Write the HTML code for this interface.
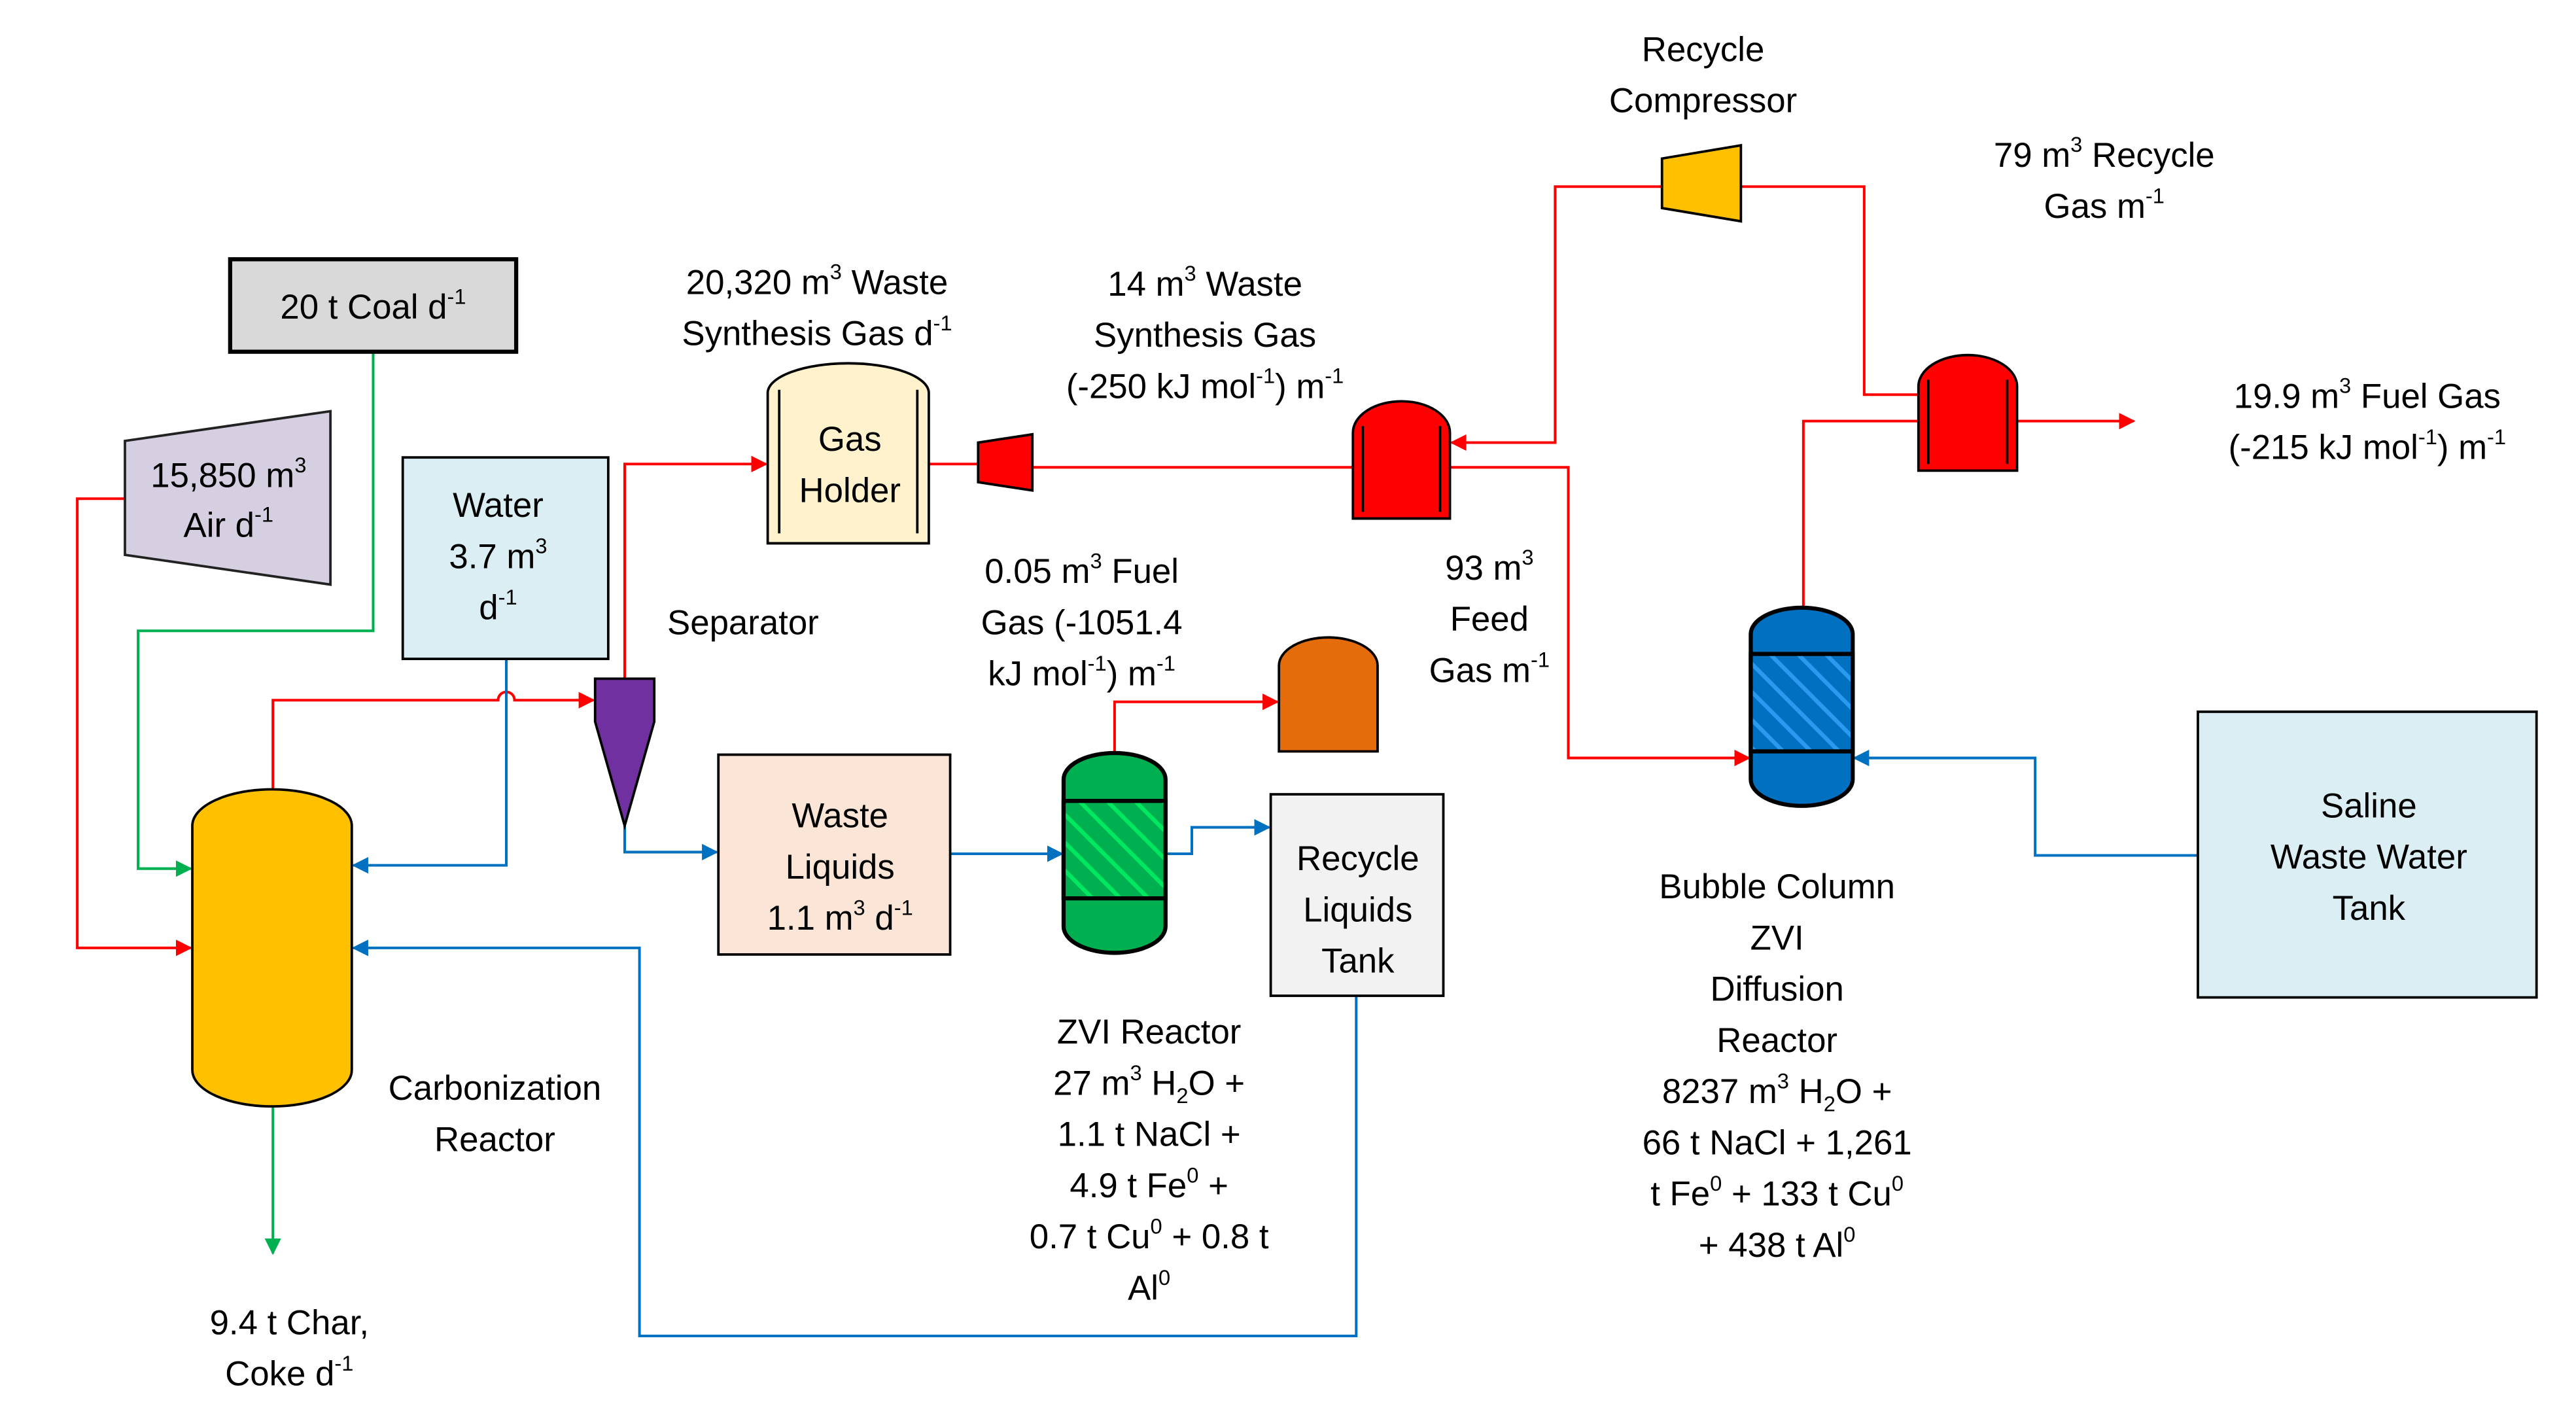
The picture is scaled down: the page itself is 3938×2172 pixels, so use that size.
<!DOCTYPE html>
<html><head><meta charset="utf-8"><style>html,body{margin:0;padding:0;background:#fff}svg{display:block}text{font-family:"Liberation Sans",sans-serif;font-size:21px;fill:#000}</style></head>
<body>
<svg width="3938" height="2172" viewBox="0 0 1567 860.5" preserveAspectRatio="none" xmlns="http://www.w3.org/2000/svg">
<defs>
<pattern id="hg" width="12" height="12" patternUnits="userSpaceOnUse" patternTransform="rotate(-45)"><rect width="12" height="12" fill="#00b050"/><rect width="2.5" height="12" fill="#00e860"/></pattern>
<pattern id="hb" width="12" height="12" patternUnits="userSpaceOnUse" patternTransform="rotate(-45)"><rect width="12" height="12" fill="#0070c0"/><rect width="2.5" height="12" fill="#2a9af0"/></pattern>
<marker id="ar" markerWidth="10" markerHeight="10" refX="9" refY="5" orient="auto" markerUnits="userSpaceOnUse"><path d="M0,0 L10,5 L0,10 Z" fill="#ff0000"/></marker>
<marker id="ab" markerWidth="10" markerHeight="10" refX="9" refY="5" orient="auto" markerUnits="userSpaceOnUse"><path d="M0,0 L10,5 L0,10 Z" fill="#0070c0"/></marker>
<marker id="ag" markerWidth="10" markerHeight="10" refX="9" refY="5" orient="auto" markerUnits="userSpaceOnUse"><path d="M0,0 L10,5 L0,10 Z" fill="#00b050"/></marker>
</defs>
<g fill="none" stroke-width="1.6">
<path d="M227,213 V382 H84 V526 H116" stroke="#00b050" marker-end="url(#ag)"/>
<path d="M166,670 V759" stroke="#00b050" marker-end="url(#ag)"/>
<path d="M76,302 H47 V574 H116" stroke="#ff0000" marker-end="url(#ar)"/>
<path d="M166,478 V424 H303 A5,5 0 0 1 313,424 H361" stroke="#ff0000" marker-end="url(#ar)"/>
<path d="M380,411 V281 H466" stroke="#ff0000" marker-end="url(#ar)"/>
<path d="M565,281 H596" stroke="#ff0000"/>
<path d="M628,283 H823" stroke="#ff0000"/>
<path d="M882,283 H954 V459 H1064" stroke="#ff0000" marker-end="url(#ar)"/>
<path d="M1011,113 H946 V268 H883" stroke="#ff0000" marker-end="url(#ar)"/>
<path d="M1059,113 H1134 V239 H1167" stroke="#ff0000"/>
<path d="M1097,368 V255 H1167" stroke="#ff0000"/>
<path d="M1227,255 H1298" stroke="#ff0000" marker-end="url(#ar)"/>
<path d="M678,457 V425 H777" stroke="#ff0000" marker-end="url(#ar)"/>
<path d="M308,399 V524 H215" stroke="#0070c0" marker-end="url(#ab)"/>
<path d="M380,500 V516 H436" stroke="#0070c0" marker-end="url(#ab)"/>
<path d="M578,517 H646" stroke="#0070c0" marker-end="url(#ab)"/>
<path d="M709,517 H725 V501 H772" stroke="#0070c0" marker-end="url(#ab)"/>
<path d="M825,603 V809 H389 V574 H215" stroke="#0070c0" marker-end="url(#ab)"/>
<path d="M1337,518 H1238 V459 H1128" stroke="#0070c0" marker-end="url(#ab)"/>
</g>
<g stroke="#000" stroke-width="2.5">
<rect x="140" y="157" width="174" height="56" fill="#d9d9d9"/>
<path d="M76,267 L201,249 V354 L76,336 Z" fill="#d5cfe1" stroke="#222" stroke-width="1.5"/>
<rect x="245" y="277" width="125" height="122" fill="#dbeef4" stroke-width="1.5"/>
<path d="M117,500 A48.5,22 0 0 1 214,500 V648 A48.5,22 0 0 1 117,648 Z" fill="#ffc000" stroke-width="1.5"/>
<path d="M362,411 H398 V437 L380,500 L362,437 Z" fill="#7030a0" stroke-width="1.5"/>
<path d="M467,238 A49,18 0 0 1 565,238 V329 H467 Z" fill="#fff2cc" stroke-width="1.5"/>
<path d="M474,236 V323 M558,236 V323" stroke-width="1.5"/>
<path d="M595,268 L628,263 V297 L595,292 Z" fill="#ff0000" stroke-width="1.5"/>
<rect x="437" y="457" width="141" height="121" fill="#fbe5d6" stroke-width="1.5"/>
<path d="M647,472 A31,16 0 0 1 709,472 V561 A31,16 0 0 1 647,561 Z" fill="#00b050"/>
<rect x="647" y="485" width="62" height="59" fill="url(#hg)"/>
<path d="M778,403 A30,17 0 0 1 838,403 V455 H778 Z" fill="#e46c0a" stroke-width="1.5"/>
<rect x="773" y="481" width="105" height="122" fill="#f2f2f2" stroke-width="1.5"/>
<path d="M823,262 A29.5,19 0 0 1 882,262 V314 H823 Z" fill="#ff0000" stroke-width="1.5"/>
<path d="M829,258 V310 M876,258 V310" stroke-width="1.5"/>
<path d="M1011,96 L1059,88 V134 L1011,126 Z" fill="#ffc000" stroke-width="1.5"/>
<path d="M1167,234 A30,19 0 0 1 1227,234 V285 H1167 Z" fill="#ff0000" stroke-width="1.5"/>
<path d="M1173,230 V281 M1221,230 V281" stroke-width="1.5"/>
<path d="M1065,384 A31,16 0 0 1 1127,384 V472 A31,16 0 0 1 1065,472 Z" fill="#0070c0"/>
<rect x="1065" y="396" width="62" height="59" fill="url(#hb)"/>
<rect x="1337" y="431" width="206" height="173" fill="#dbeef4" stroke-width="1.5"/>
</g>
<g text-anchor="middle">
<text x="227" y="193">20 t Coal d<tspan font-size="13" dy="-9">-1</tspan></text>
<text x="139" y="295">15,850 m<tspan font-size="13" dy="-9">3</tspan></text>
<text x="139" y="325">Air d<tspan font-size="13" dy="-9">-1</tspan></text>
<text x="303" y="313">Water</text>
<text x="303" y="344">3.7 m<tspan font-size="13" dy="-9">3</tspan></text>
<text x="303" y="375">d<tspan font-size="13" dy="-9">-1</tspan></text>
<text x="452" y="384">Separator</text>
<text x="497" y="178">20,320 m<tspan font-size="13" dy="-9">3</tspan><tspan dy="9"> Waste</tspan></text>
<text x="497" y="209">Synthesis Gas d<tspan font-size="13" dy="-9">-1</tspan></text>
<text x="517" y="273">Gas</text>
<text x="517" y="304">Holder</text>
<text x="733" y="179">14 m<tspan font-size="13" dy="-9">3</tspan><tspan dy="9"> Waste</tspan></text>
<text x="733" y="210">Synthesis Gas</text>
<text x="733" y="241">(-250 kJ mol<tspan font-size="13" dy="-9">-1</tspan><tspan dy="9">) m</tspan><tspan font-size="13" dy="-9">-1</tspan></text>
<text x="1036" y="37">Recycle</text>
<text x="1036" y="68">Compressor</text>
<text x="1280" y="101">79 m<tspan font-size="13" dy="-9">3</tspan><tspan dy="9"> Recycle</tspan></text>
<text x="1280" y="132">Gas m<tspan font-size="13" dy="-9">-1</tspan></text>
<text x="1440" y="247">19.9 m<tspan font-size="13" dy="-9">3</tspan><tspan dy="9"> Fuel Gas</tspan></text>
<text x="1440" y="278">(-215 kJ mol<tspan font-size="13" dy="-9">-1</tspan><tspan dy="9">) m</tspan><tspan font-size="13" dy="-9">-1</tspan></text>
<text x="658" y="353">0.05 m<tspan font-size="13" dy="-9">3</tspan><tspan dy="9"> Fuel</tspan></text>
<text x="658" y="384">Gas (-1051.4</text>
<text x="658" y="415">kJ mol<tspan font-size="13" dy="-9">-1</tspan><tspan dy="9">) m</tspan><tspan font-size="13" dy="-9">-1</tspan></text>
<text x="906" y="351">93 m<tspan font-size="13" dy="-9">3</tspan></text>
<text x="906" y="382">Feed</text>
<text x="906" y="413">Gas m<tspan font-size="13" dy="-9">-1</tspan></text>
<text x="511" y="501">Waste</text>
<text x="511" y="532">Liquids</text>
<text x="511" y="563">1.1 m<tspan font-size="13" dy="-9">3</tspan><tspan dy="9"> d</tspan><tspan font-size="13" dy="-9">-1</tspan></text>
<text x="826" y="527">Recycle</text>
<text x="826" y="558">Liquids</text>
<text x="826" y="589">Tank</text>
<text x="1441" y="495">Saline</text>
<text x="1441" y="526">Waste Water</text>
<text x="1441" y="557">Tank</text>
<text x="301" y="666">Carbonization</text>
<text x="301" y="697">Reactor</text>
<text x="176" y="808">9.4 t Char,</text>
<text x="176" y="839">Coke d<tspan font-size="13" dy="-9">-1</tspan></text>
<text x="699" y="632">ZVI Reactor</text>
<text x="699" y="663">27 m<tspan font-size="13" dy="-9">3</tspan><tspan dy="9"> H</tspan><tspan font-size="13" dy="5">2</tspan><tspan dy="-5">O +</tspan></text>
<text x="699" y="694">1.1 t NaCl +</text>
<text x="699" y="725">4.9 t Fe<tspan font-size="13" dy="-9">0</tspan><tspan dy="9"> +</tspan></text>
<text x="699" y="756">0.7 t Cu<tspan font-size="13" dy="-9">0</tspan><tspan dy="9"> + 0.8 t</tspan></text>
<text x="699" y="787">Al<tspan font-size="13" dy="-9">0</tspan></text>
<text x="1081" y="544">Bubble Column</text>
<text x="1081" y="575">ZVI</text>
<text x="1081" y="606">Diffusion</text>
<text x="1081" y="637">Reactor</text>
<text x="1081" y="668">8237 m<tspan font-size="13" dy="-9">3</tspan><tspan dy="9"> H</tspan><tspan font-size="13" dy="5">2</tspan><tspan dy="-5">O +</tspan></text>
<text x="1081" y="699">66 t NaCl  + 1,261</text>
<text x="1081" y="730">t Fe<tspan font-size="13" dy="-9">0</tspan><tspan dy="9"> + 133 t Cu</tspan><tspan font-size="13" dy="-9">0</tspan></text>
<text x="1081" y="761">+ 438 t Al<tspan font-size="13" dy="-9">0</tspan></text>
</g>
</svg>
</body></html>
